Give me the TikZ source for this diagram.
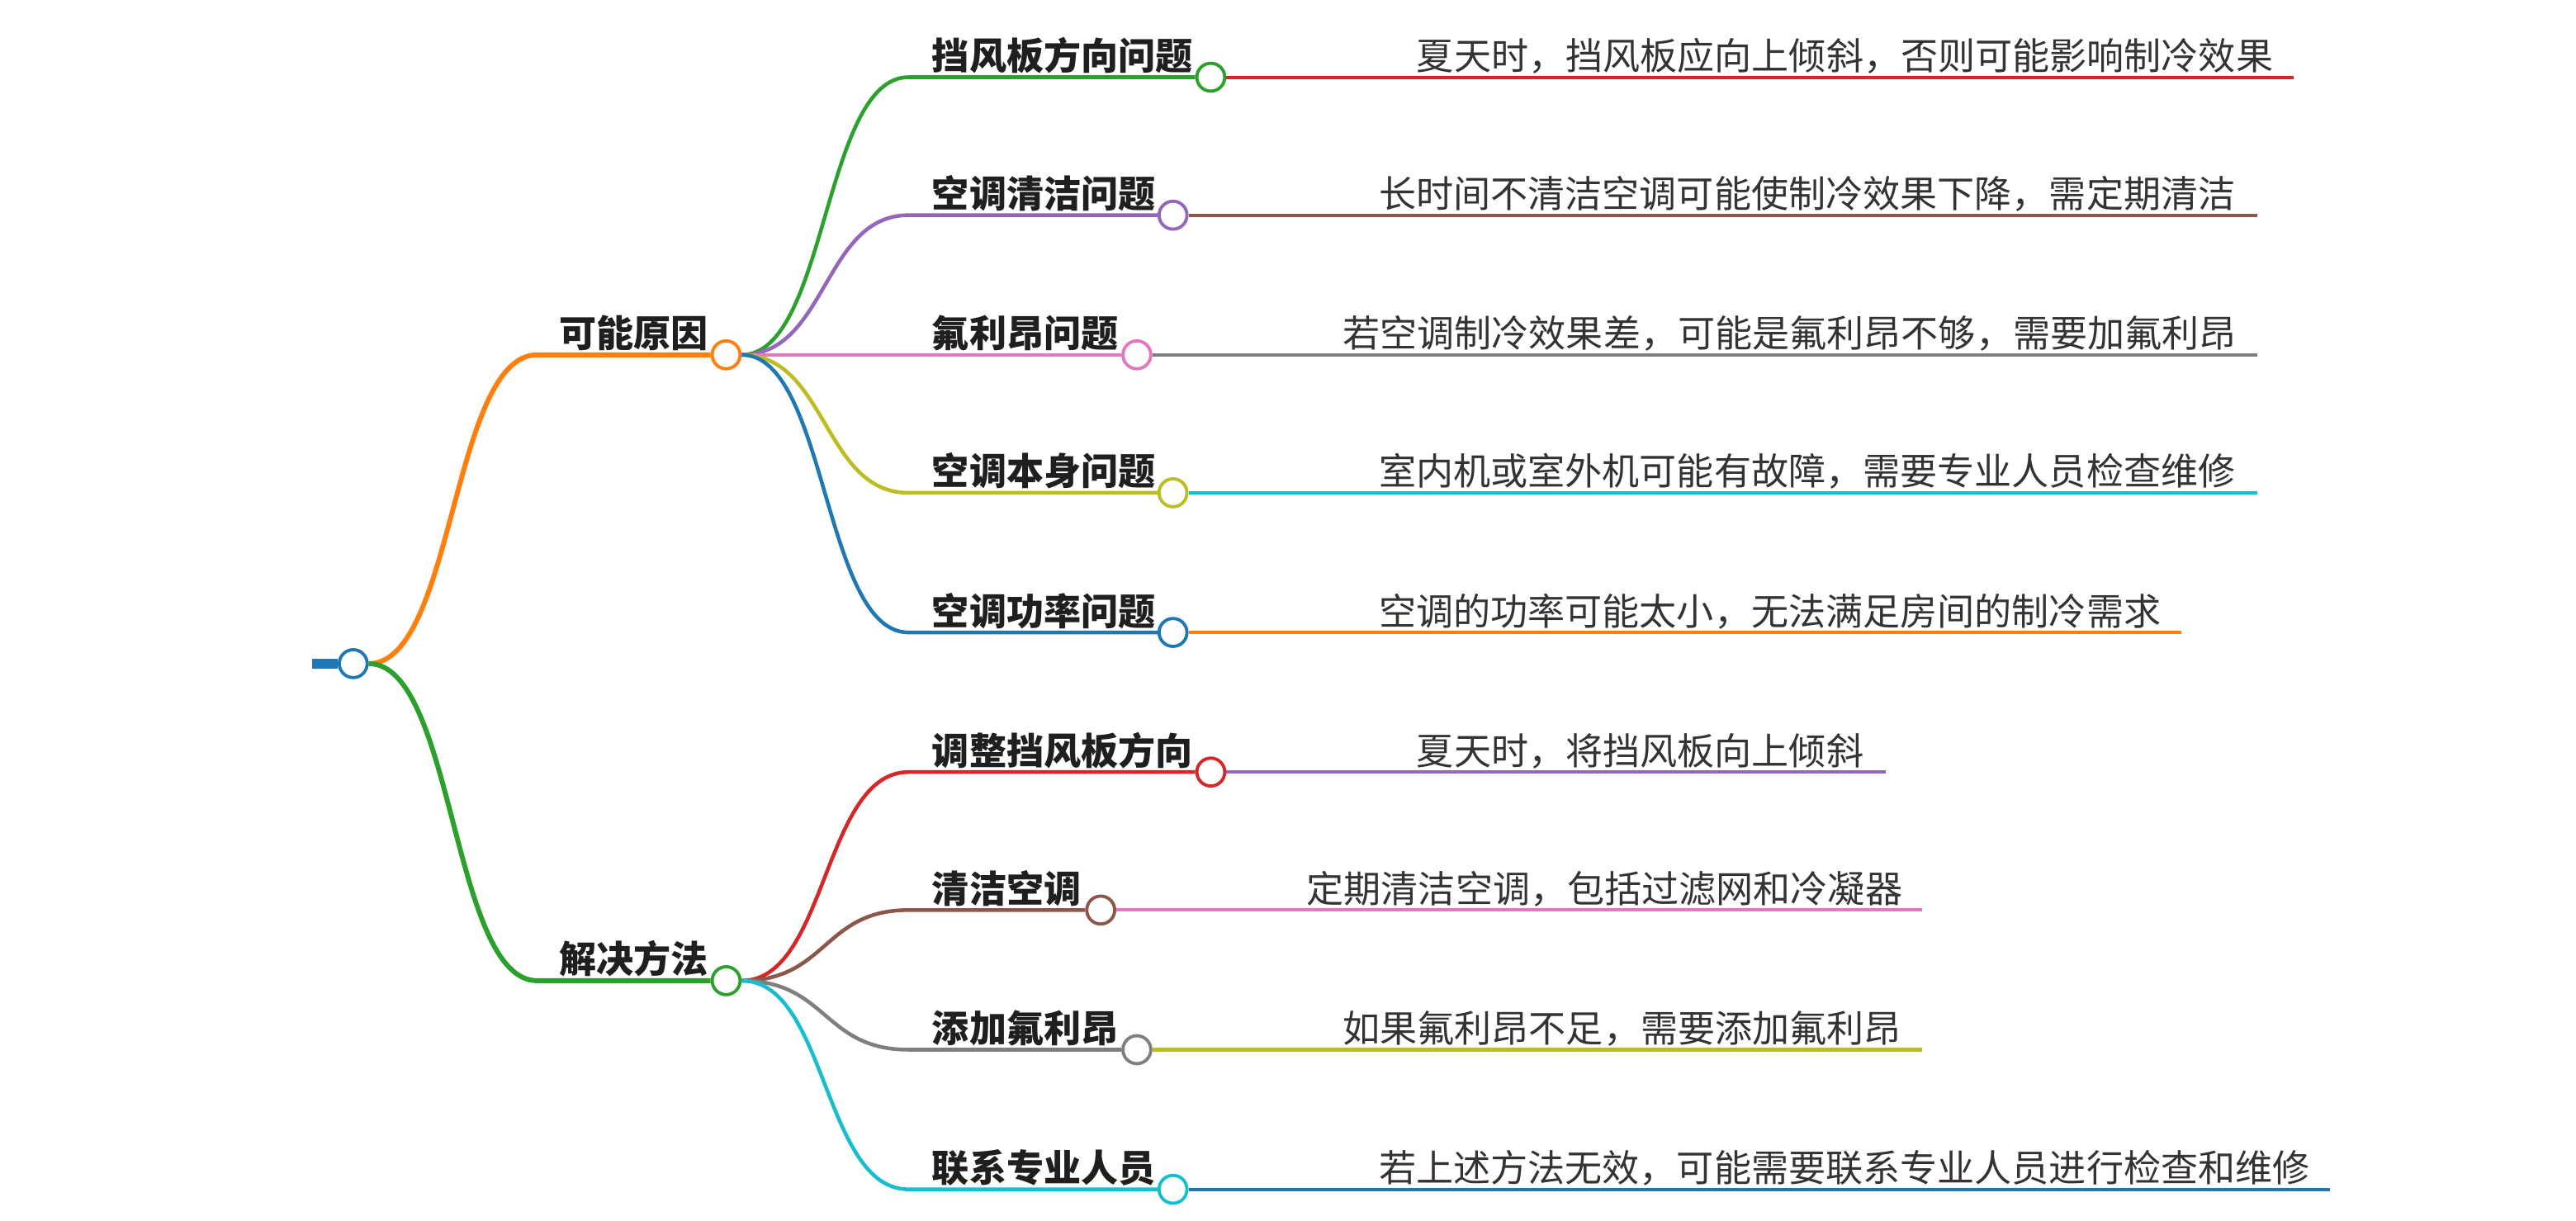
\documentclass[tikz,border=0pt]{standalone}
\usepackage{fontspec}
\setmainfont{Noto Sans CJK SC}
\usetikzlibrary{positioning}

\definecolor{tabblue}{HTML}{1F77B4}
\definecolor{taborange}{HTML}{FF7F0E}
\definecolor{tabgreen}{HTML}{2CA02C}
\definecolor{tabred}{HTML}{D62728}
\definecolor{tabpurple}{HTML}{9467BD}
\definecolor{tabbrown}{HTML}{8C564B}
\definecolor{tabpink}{HTML}{E377C2}
\definecolor{tabgray}{HTML}{7F7F7F}
\definecolor{tabolive}{HTML}{BCBD22}
\definecolor{tabcyan}{HTML}{17BECF}

\tikzset{
  dot/.style={circle, draw, fill=white, line width=1.1pt, minimum size=0.34cm, inner sep=0pt},
  topic/.style={font=\bfseries\fontsize{12.9}{15}\selectfont, text=black!88, inner sep=0pt, anchor=base west},
  desc/.style={font=\fontsize{12.9}{15}\selectfont, text=black!80, inner sep=0pt, anchor=base west},
  branch/.style={line width=1.7pt},
  twig/.style={line width=1.3pt},
  leaf/.style={line width=1.15pt}
}

\begin{document}
\begin{tikzpicture}[x=0.02cm, y=-0.02cm]
\useasboundingbox (0,0) rectangle (1568,743);

% Root
\coordinate (r0) at (190,404);
\node[dot, draw=tabblue] (r) at (215,404) {};
\draw[tabblue, line width=3.4pt] (r0) -- (r);

% Main branches
\node[dot, draw=taborange] (a) at (442,216) {};
\node[topic] (ta) at (340,211.5) {可能原因};
\node[dot, draw=tabgreen] (b) at (442,597) {};
\node[topic] (tb) at (340,592.5) {解决方法};
\draw[branch, taborange] (r.east) .. controls +(52,0) and +(-52,0) .. (327,216) -- (a);
\draw[branch, tabgreen] (r.east) .. controls +(52,0) and +(-52,0) .. (327,597) -- (b);

% Causes
\node[dot, draw=tabgreen] (a1) at (737,47) {};
\node[topic] (ta1) at (567,42.5) {挡风板方向问题};
\node[desc] (da1) at (862,42.5) {夏天时，挡风板应向上倾斜，否则可能影响制冷效果};
\coordinate (ea1) at (1396,47);
\draw[twig, tabgreen] (a.east) .. controls +(52,0) and +(-52,0) .. (553,47) -- (a1);
\draw[leaf, tabred] (a1) -- (ea1);

\node[dot, draw=tabpurple] (a2) at (714,131) {};
\node[topic] (ta2) at (567,126.5) {空调清洁问题};
\node[desc] (da2) at (839,126.5) {长时间不清洁空调可能使制冷效果下降，需定期清洁};
\coordinate (ea2) at (1374,131);
\draw[twig, tabpurple] (a.east) .. controls +(52,0) and +(-52,0) .. (553,131) -- (a2);
\draw[leaf, tabbrown] (a2) -- (ea2);

\node[dot, draw=tabpink] (a3) at (692,216) {};
\node[topic] (ta3) at (567,211.5) {氟利昂问题};
\node[desc] (da3) at (817,211.5) {若空调制冷效果差，可能是氟利昂不够，需要加氟利昂};
\coordinate (ea3) at (1374,216);
\draw[twig, tabpink] (a.east) -- (a3);
\draw[leaf, tabgray] (a3) -- (ea3);

\node[dot, draw=tabolive] (a4) at (714,300) {};
\node[topic] (ta4) at (567,295.5) {空调本身问题};
\node[desc] (da4) at (839,295.5) {室内机或室外机可能有故障，需要专业人员检查维修};
\coordinate (ea4) at (1374,300);
\draw[twig, tabolive] (a.east) .. controls +(52,0) and +(-52,0) .. (553,300) -- (a4);
\draw[leaf, tabcyan] (a4) -- (ea4);

\node[dot, draw=tabblue] (a5) at (714,385) {};
\node[topic] (ta5) at (567,380.5) {空调功率问题};
\node[desc] (da5) at (839,380.5) {空调的功率可能太小，无法满足房间的制冷需求};
\coordinate (ea5) at (1328,385);
\draw[twig, tabblue] (a.east) .. controls +(52,0) and +(-52,0) .. (553,385) -- (a5);
\draw[leaf, taborange] (a5) -- (ea5);

% Solutions
\node[dot, draw=tabred] (b1) at (737,470) {};
\node[topic] (tb1) at (567,465.5) {调整挡风板方向};
\node[desc] (db1) at (862,465.5) {夏天时，将挡风板向上倾斜};
\coordinate (eb1) at (1148,470);
\draw[twig, tabred] (b.east) .. controls +(52,0) and +(-52,0) .. (553,470) -- (b1);
\draw[leaf, tabpurple] (b1) -- (eb1);

\node[dot, draw=tabbrown] (b2) at (670,554) {};
\node[topic] (tb2) at (567,549.5) {清洁空调};
\node[desc] (db2) at (795,549.5) {定期清洁空调，包括过滤网和冷凝器};
\coordinate (eb2) at (1170,554);
\draw[twig, tabbrown] (b.east) .. controls +(52,0) and +(-52,0) .. (553,554) -- (b2);
\draw[leaf, tabpink] (b2) -- (eb2);

\node[dot, draw=tabgray] (b3) at (692,639) {};
\node[topic] (tb3) at (567,634.5) {添加氟利昂};
\node[desc] (db3) at (817,634.5) {如果氟利昂不足，需要添加氟利昂};
\coordinate (eb3) at (1170,639);
\draw[twig, tabgray] (b.east) .. controls +(52,0) and +(-52,0) .. (553,639) -- (b3);
\draw[leaf, tabolive] (b3) -- (eb3);

\node[dot, draw=tabcyan] (b4) at (714,724) {};
\node[topic] (tb4) at (567,719.5) {联系专业人员};
\node[desc] (db4) at (839,719.5) {若上述方法无效，可能需要联系专业人员进行检查和维修};
\coordinate (eb4) at (1418,724);
\draw[twig, tabcyan] (b.east) .. controls +(52,0) and +(-52,0) .. (553,724) -- (b4);
\draw[leaf, tabblue] (b4) -- (eb4);

\end{tikzpicture}
\end{document}
